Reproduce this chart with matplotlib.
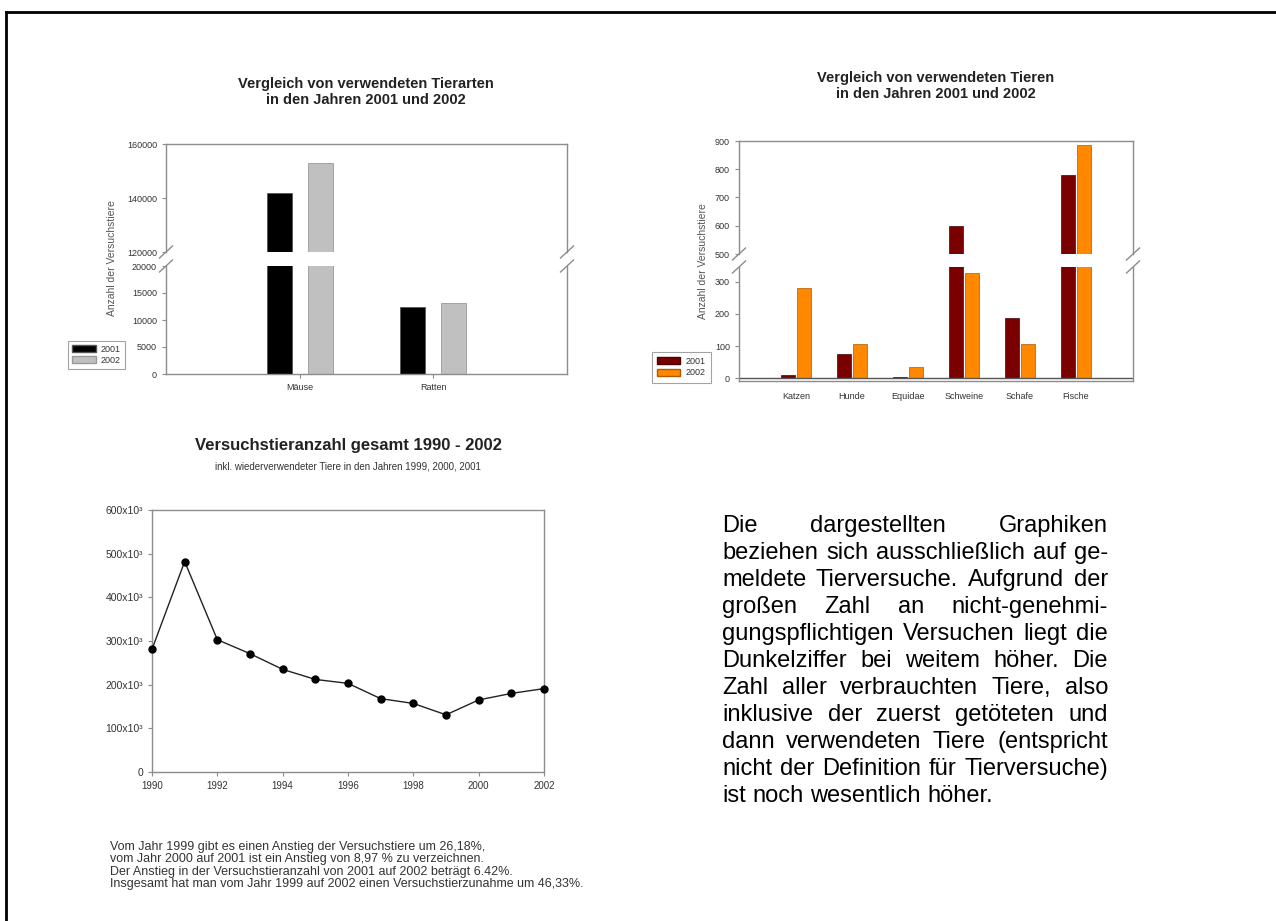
import numpy as np
import matplotlib
matplotlib.use('Agg')
import matplotlib.pyplot as plt
from matplotlib.lines import Line2D
from matplotlib.patches import Patch

plt.rcParams['font.family'] = ['Liberation Sans', 'DejaVu Sans']

# Data
cats_a = ['Mäuse', 'Ratten']
arten_2001 = [142000, 12400]
arten_2002 = [152800, 13200]

cats_b = ['Katzen', 'Hunde', 'Equidae', 'Schweine', 'Schafe', 'Fische']
tiere_2001 = [12, 75, 3, 598, 186, 778]
tiere_2002 = [281, 108, 35, 325, 108, 885]

years = [1990, 1991, 1992, 1993, 1994, 1995, 1996, 1997, 1998, 1999, 2000, 2001, 2002]
gesamt = [281, 482, 303, 271, 235, 212, 203, 168, 157, 131, 165, 180, 191]  # x1000

bottom_text = ["Vom Jahr 1999 gibt es einen Anstieg der Versuchstiere um 26,18%,",
               "vom Jahr 2000 auf 2001 ist ein Anstieg von 8,97 % zu verzeichnen.",
               "Der Anstieg in der Versuchstieranzahl von 2001 auf 2002 beträgt 6.42%.",
               "Insgesamt hat man vom Jahr 1999 auf 2002 einen Versuchstierzunahme um 46,33%."]

para = ["Die dargestellten Graphiken",
        "beziehen sich ausschließlich auf ge-",
        "meldete Tierversuche. Aufgrund der",
        "großen Zahl an nicht-genehmi-",
        "gungspflichtigen Versuchen liegt die",
        "Dunkelziffer bei weitem höher. Die",
        "Zahl aller verbrauchten Tiere, also",
        "inklusive der zuerst getöteten und",
        "dann verwendeten Tiere (entspricht",
        "nicht der Definition für Tierversuche)",
        "ist noch wesentlich höher."]

W, H = 1276, 921
fig = plt.figure(figsize=(W / 100, H / 100), dpi=100)
fig.patch.set_facecolor('white')

def rect(x0, y0, x1, y1):
    return [x0 / W, 1 - y1 / H, (x1 - x0) / W, (y1 - y0) / H]

def fx(x):
    return x / W

def fy(y):
    return 1 - y / H

GREY = '#8c8c8c'
TXT = '#333333'

def style(ax, top=True, bottom=True, size=6.5):
    for s in ax.spines.values():
        s.set_color(GREY)
        s.set_linewidth(1)
    ax.spines['top'].set_visible(top)
    ax.spines['bottom'].set_visible(bottom)
    ax.tick_params(direction='out', length=3, width=0.8, color=GREY,
                   labelsize=size, labelcolor=TXT)

def breaks(xs, ys):
    for x in xs:
        for y in ys:
            fig.add_artist(Line2D([fx(x - 6.5), fx(x + 6.5)], [fy(y + 6), fy(y - 6)],
                                  color=GREY, lw=1))

# Outer frame
fig.add_artist(Line2D([fx(6), fx(6)], [fy(12), 0], color='black', lw=2))
fig.add_artist(Line2D([fx(6), 1], [fy(12), fy(12)], color='black', lw=2))

# ---- Top left chart ----
xa = np.arange(len(cats_a))
wa, oa = 0.186, 0.153
ax_u = fig.add_axes(rect(166, 144, 567, 252))
ax_l = fig.add_axes(rect(166, 266, 567, 374))
for ax in (ax_u, ax_l):
    ax.bar(xa - oa, arten_2001, wa, color='black', edgecolor='#555555', lw=0.6)
    ax.bar(xa + oa, arten_2002, wa, color='#c0c0c0', edgecolor='#999999', lw=0.6)
    ax.set_xlim(-1, 2)
ax_u.set_ylim(120000, 160000)
ax_u.set_yticks([120000, 140000, 160000])
ax_u.set_xticks([])
style(ax_u, bottom=False)
ax_l.set_ylim(0, 20000)
ax_l.set_yticks([0, 5000, 10000, 15000, 20000])
ax_l.set_xticks(xa)
ax_l.set_xticklabels(cats_a)
style(ax_l, top=False)
breaks([166, 567], [252, 266])
fig.text(fx(366), fy(92), 'Vergleich von verwendeten Tierarten\nin den Jahren 2001 und 2002',
         ha='center', va='center', fontsize=10.5, fontweight='bold', color='#222222',
         linespacing=1.25)
fig.text(fx(112), fy(258), 'Anzahl der Versuchstiere', rotation=90, ha='center', va='center',
         fontsize=7.5, color='#555555')
leg = fig.legend(handles=[Patch(facecolor='black', edgecolor='#555555', label='2001'),
                          Patch(facecolor='#c0c0c0', edgecolor='#999999', label='2002')],
                 loc='upper left', bbox_to_anchor=(fx(63), fy(336)), fontsize=6.5,
                 frameon=True, fancybox=False, edgecolor=GREY, handlelength=2.6,
                 handleheight=0.8, borderpad=0.5, labelspacing=0.2, handletextpad=0.6)
leg.get_frame().set_linewidth(0.8)
for t in leg.get_texts():
    t.set_color(TXT)

# ---- Top right chart ----
xb = np.arange(len(cats_b))
wb, ob = 0.25, 0.15
RED, ORANGE = '#7a0000', '#ff8800'
bx_u = fig.add_axes(rect(739, 141, 1133, 254))
bx_l = fig.add_axes(rect(739, 267, 1133, 381))
for ax in (bx_u, bx_l):
    ax.bar(xb - ob, tiere_2001, wb, color=RED, edgecolor='#4a0000', lw=0.5)
    ax.bar(xb + ob, tiere_2002, wb, color=ORANGE, edgecolor='#b05a00', lw=0.5)
    ax.set_xlim(-1.02, 6.02)
bx_u.set_ylim(500, 900)
bx_u.set_yticks([500, 600, 700, 800, 900])
bx_u.set_xticks([])
style(bx_u, bottom=False)
bx_l.set_ylim(-8, 345)
bx_l.set_yticks([0, 100, 200, 300])
bx_l.set_xticks(xb)
bx_l.set_xticklabels(cats_b)
bx_l.axhline(0, color='#555555', lw=1)
style(bx_l, top=False)
bx_l.tick_params(axis='x', length=0, pad=8)
breaks([739, 1133], [254, 267])
fig.text(fx(936), fy(86), 'Vergleich von verwendeten Tieren\nin den Jahren 2001 und 2002',
         ha='center', va='center', fontsize=10.5, fontweight='bold', color='#222222',
         linespacing=1.25)
fig.text(fx(703), fy(261), 'Anzahl der Versuchstiere', rotation=90, ha='center', va='center',
         fontsize=7.5, color='#555555')
leg = fig.legend(handles=[Patch(facecolor=RED, edgecolor='#4a0000', label='2001'),
                          Patch(facecolor=ORANGE, edgecolor='#b05a00', label='2002')],
                 loc='upper left', bbox_to_anchor=(fx(647), fy(347)), fontsize=6.5,
                 frameon=True, fancybox=False, edgecolor=GREY, handlelength=2.6,
                 handleheight=0.8, borderpad=0.6, labelspacing=0.25, handletextpad=0.6)
leg.get_frame().set_linewidth(0.8)
for t in leg.get_texts():
    t.set_color(TXT)

# ---- Line chart ----
cx = fig.add_axes(rect(152, 510, 544, 772))
cx.plot(years, np.array(gesamt) * 1000, color='#222222', lw=1, marker='o', ms=5,
        mfc='black', mec='black', clip_on=False, zorder=3)
cx.set_xlim(1990, 2002)
cx.set_ylim(0, 600000)
cx.set_xticks(range(1990, 2003, 2))
cx.set_yticks(range(0, 600001, 100000))
cx.set_yticklabels(['0'] + [f'{v}x10³' for v in range(100, 601, 100)])
style(cx, size=7.5)
cx.tick_params(axis='x', labelsize=7)
fig.text(fx(348), fy(445), 'Versuchstieranzahl gesamt 1990 - 2002', ha='center', va='center',
         fontsize=12, fontweight='bold', color='#222222')
fig.text(fx(348), fy(466), 'inkl. wiederverwendeter Tiere in den Jahren 1999, 2000, 2001',
         ha='center', va='center', fontsize=7, color='#333333')
fig.text(fx(110), fy(841), '\n'.join(bottom_text), ha='left', va='top', fontsize=9,
         color='#333333', linespacing=1.05)

# ---- Justified paragraph ----
r = fig.canvas.get_renderer()
fs = 17
px0, px1 = 722, 1108
py0, pdy = 526, 27
for i, line in enumerate(para):
    words = line.split()
    y = py0 + i * pdy
    ts = [fig.text(0, fy(y), w, fontsize=fs, ha='left', va='center', color='black')
          for w in words]
    ws = [t.get_window_extent(r).width for t in ts]
    if i == len(para) - 1 or len(words) == 1:
        gap = fs * 100 / 72 * 0.278
    else:
        gap = (px1 - px0 - sum(ws)) / (len(words) - 1)
    x = px0
    for t, w in zip(ts, ws):
        t.set_x(fx(x))
        x += w + gap

fig.savefig('out.png', dpi=100, facecolor='white')
